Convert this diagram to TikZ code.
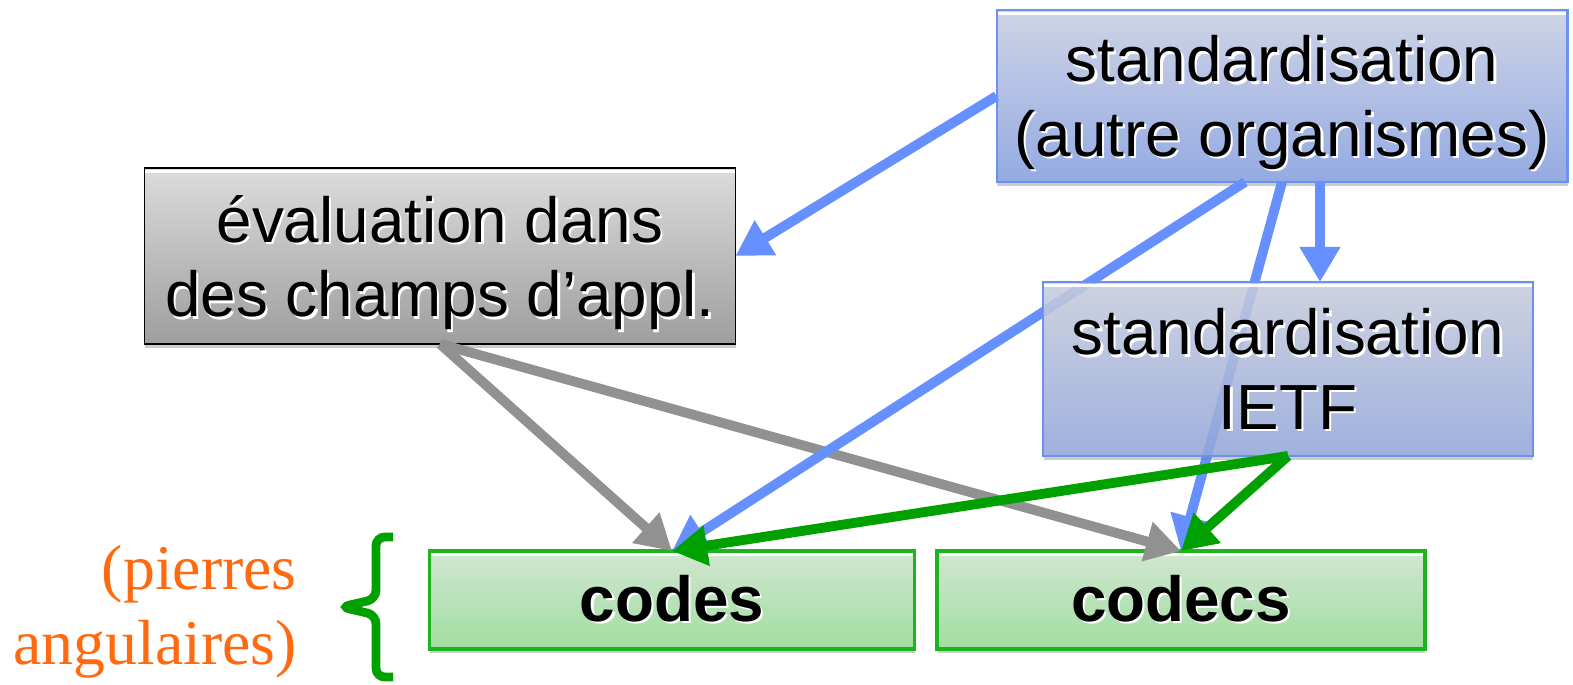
\documentclass[tikz,border=0pt]{standalone}
\usepackage{fontspec}
\setmainfont{Liberation Sans}
\newfontfamily\timesfont{Liberation Serif}
\usetikzlibrary{arrows.meta, calc, shadows}

\definecolor{stdline}{RGB}{102,144,255}
\definecolor{stdborder}{RGB}{110,145,240}
\definecolor{stdtop}{RGB}{206,212,230}
\definecolor{stdbot}{RGB}{148,170,226}
\definecolor{evaltop}{RGB}{220,220,220}
\definecolor{evalbot}{RGB}{158,158,158}
\definecolor{evalline}{RGB}{145,145,145}
\definecolor{keytop}{RGB}{210,230,210}
\definecolor{keybot}{RGB}{160,222,160}
\definecolor{keyborder}{RGB}{30,180,30}
\definecolor{keyline}{RGB}{0,160,0}
\definecolor{notecol}{RGB}{255,106,16}

% white offset copy behind a line of text
\newcommand\shad[1]{\leavevmode\rlap{\raisebox{-1.3pt}{\hspace{1.3pt}\color{white}#1}}#1}

\tikzset{
  box/.style={draw, inner sep=0pt, outer sep=0pt, align=center,
    font=\fontsize{36.3}{42.5}\selectfont,
    drop shadow={shadow xshift=0.3pt, shadow yshift=-2.3pt, opacity=0.4},
    path picture={\draw[white, line width=1.3pt]
      ([yshift=-2pt]path picture bounding box.north west) --
      ([yshift=-2pt]path picture bounding box.north east);}},
  stdbox/.style={box, draw=stdborder, line width=1.2pt, top color=stdtop, bottom color=stdbot,
    text depth=0pt},
  evalbox/.style={box, draw=black, line width=1pt, top color=evaltop, bottom color=evalbot,
    text depth=0pt},
  keybox/.style={box, draw=keyborder, line width=1.8pt, top color=keytop, bottom color=keybot,
    font=\fontsize{36.3}{42.5}\selectfont\bfseries},
  link/.style={line width=5.6pt, -{Triangle[length=20pt,width=22pt]}},
}

\begin{document}
\begin{tikzpicture}[x=0.02cm, y=-0.02cm]
\useasboundingbox (0,0) rectangle (1573,684);

% boxes
\node[stdbox, minimum width=11.42cm, minimum height=3.44cm] (autre) at (1282,96)
  {\shad{standardisation}\\\shad{(autre organismes)}};
\node[evalbox, minimum width=11.82cm, minimum height=3.52cm] (eval) at (440,256)
  {\shad{évaluation dans}\\\shad{des champs d’appl.}};
\node[keybox, minimum width=9.7cm, minimum height=1.96cm] (codes) at (672,600) {\shad{codes}};
\node[keybox, minimum width=9.76cm, minimum height=1.96cm] (codecs) at (1181,600) {\shad{codecs}};

% evaluation
\draw[link, evalline] (eval.south) -- (codes.north);
\draw[link, evalline] (eval.south) -- (codecs.north);

% other standards bodies
\draw[link, stdline] (autre.west) -- (eval.east);
\draw[link, stdline] ($(autre.south)+(-37,0)$) -- (codes.north);
\draw[link, stdline] (autre.south) -- (codecs.north);

% IETF, lets the links behind it show through
\node[stdbox, fill opacity=0.8, text opacity=1, minimum width=9.8cm, minimum height=3.48cm] (ietf) at (1288,369)
  {\shad{standardisation}\\\shad{IETF}};
\coordinate (ietf in) at ($(ietf.north)+(32,0)$);
\draw[link, stdline] (ietf in |- autre.south) -- (ietf in);

\draw[link, keyline] (ietf.south) -- (codes.north);
\draw[link, keyline] (ietf.south) -- (codecs.north);

% brace and note
\draw[keyline, line width=5pt, rounded corners=5pt]
  (393,537) -- (376,537) -- (376,599) -- (341,607) -- (376,615) -- (376,677) -- (393,677);
\node[anchor=east, align=right, text=notecol, inner sep=0pt,
  font=\timesfont\fontsize{36.3}{42.5}\selectfont] (note) at (297,612)
  {(pierres\\angulaires)};
\end{tikzpicture}
\end{document}
